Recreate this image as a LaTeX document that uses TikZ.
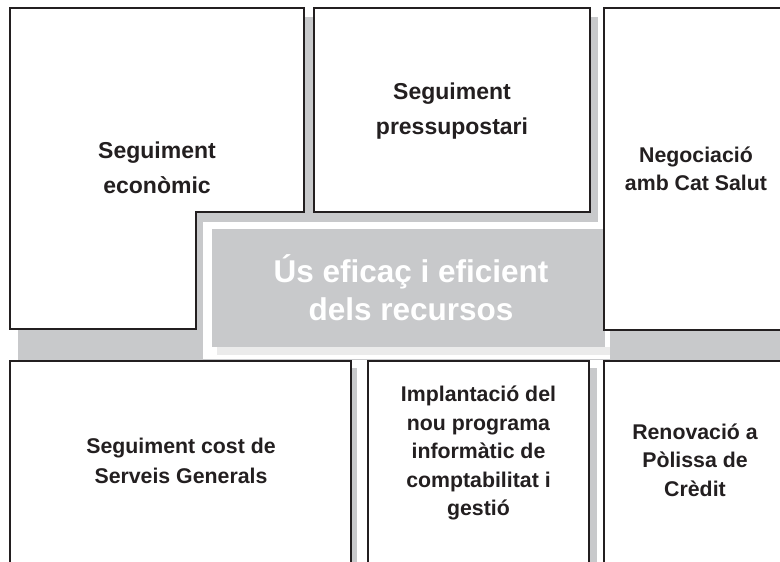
\documentclass[tikz,border=0pt]{standalone}
\usepackage{fontspec}
\setmainfont{Liberation Sans}
\definecolor{greyband}{RGB}{200,201,203}
\definecolor{greylight}{RGB}{235,235,235}
\definecolor{ink}{RGB}{35,31,32}
\tikzset{
  boxline/.style={draw=ink, line width=2.2pt, fill=white},
  shadowfill/.style={fill=greyband},
  bigtxt/.style={text=ink, align=center, inner sep=0pt, font={\fontsize{23}{34.5}\selectfont\bfseries}},
  smalltxt/.style={text=ink, align=center, inner sep=0pt, font={\fontsize{21.3}{28.5}\selectfont\bfseries}},
  centertxt/.style={text=white, align=center, inner sep=0pt, font={\fontsize{31.5}{38}\selectfont\bfseries}}
}
\begin{document}
\begin{tikzpicture}[x=1pt,y=-1pt]
\useasboundingbox (0,0) rectangle (780,562);
\clip (0,0) rectangle (780,562);
% shadows and grey band
\fill[shadowfill] (18,17) rectangle (313,338);
\fill[shadowfill] (322,17) rectangle (598,221);
\fill[shadowfill] (612,17) rectangle (790,339);
\fill[shadowfill] (18,212) rectangle (598,360);
\fill[shadowfill] (18,330) rectangle (780,360);
\fill[shadowfill] (18,368) rectangle (357,570);
\fill[shadowfill] (376,368) rectangle (597,570);
% central element
\fill[white] (203,222) rectangle (610,359);
\fill[greylight] (217,347) rectangle (610,355);
\fill[greyband] (212,229) rectangle (605,347);
% boxes
\draw[boxline] (10,8) -- (304,8) -- (304,212) -- (196,212) -- (196,329) -- (10,329) -- cycle;
\draw[boxline] (314,8) rectangle (590,212);
\draw[boxline] (604,8) rectangle (800,330);
\draw[boxline] (10,361) rectangle (351,575);
\draw[boxline] (368,361) rectangle (589,575);
\draw[boxline] (604,361) rectangle (800,575);
% texts
\node[bigtxt] (t1) at (157,168) {Seguiment\\econòmic};
\node[bigtxt] (t2) at (452,111) {Seguiment\\pressupostari};
\node[smalltxt] (t3) at (696,169) {Negociació\\amb Cat Salut};
\node[smalltxt, font={\fontsize{21.3}{30}\selectfont\bfseries}] (t4) at (181,461) {Seguiment cost de\\Serveis Generals};
\node[smalltxt] (t5) at (478.5,453) {Implantació del\\nou programa\\informàtic de\\comptabilitat i\\gestió};
\node[smalltxt] (t6) at (695,460) {Renovació a\\Pòlissa de\\Crèdit};
\node[centertxt] (tc) at (411,288) {Ús eficaç i eficient\\dels recursos};
\end{tikzpicture}
\end{document}
